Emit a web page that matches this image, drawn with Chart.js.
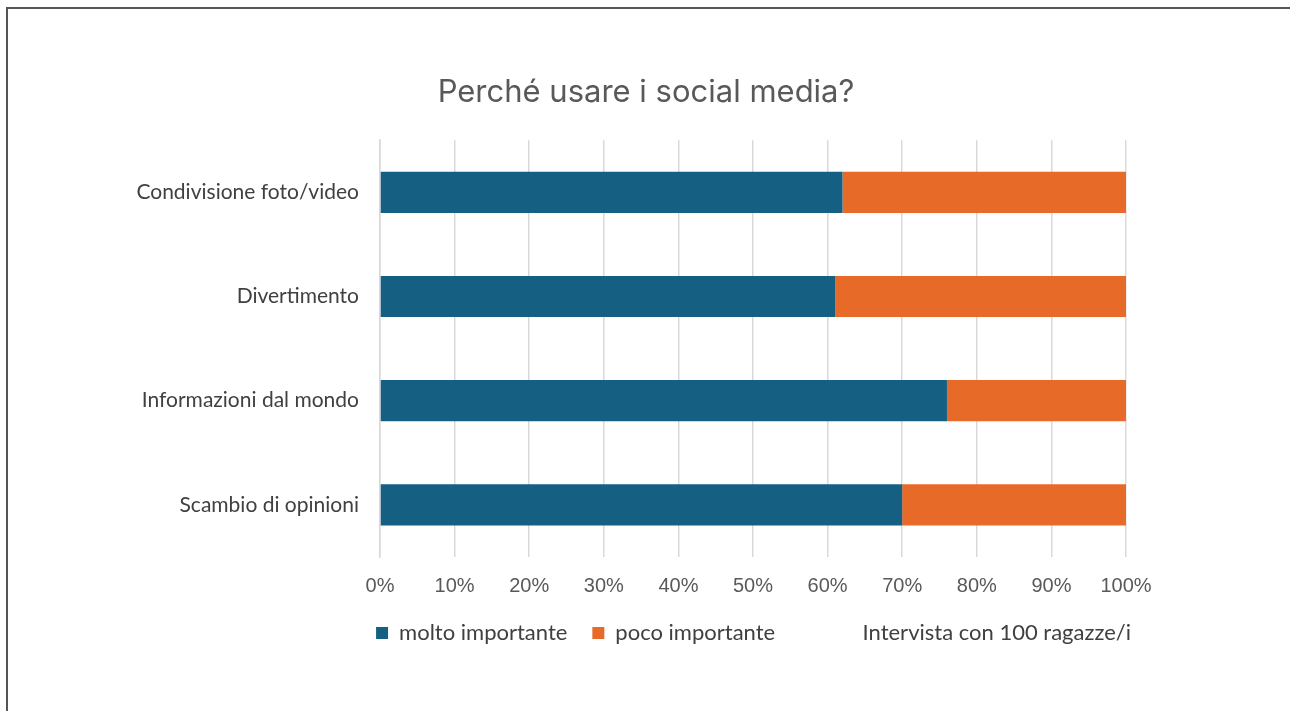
<!DOCTYPE html>
<html>
<head>
<meta charset="utf-8">
<script src="https://cdn.jsdelivr.net/npm/chart.js@4.4.1/dist/chart.umd.min.js"></script>
<style>
  html, body { margin: 0; padding: 0; background: #fff; }
  #wrap { position: relative; width: 1290px; height: 711px; overflow: hidden; }
  #frame { position: absolute; left: 6px; top: 7px; right: -10px; bottom: -10px;
           border-left: 2px solid #555; border-top: 2px solid #555; }
  #chart { position: absolute; left: 0; top: 0; }
</style>
</head>
<body>
<div id="wrap">
  <div id="frame"></div>
  <canvas id="chart" width="1290" height="711"></canvas>
</div>
<script>
const categorie = ['Condivisione foto/video', 'Divertimento', 'Informazioni dal mondo', 'Scambio di opinioni']
const moltoImportante = [62, 61, 76, 70]
const pocoImportante = [38, 39, 24, 30]
const xTicks = [0, 10, 20, 30, 40, 50, 60, 70, 80, 90, 100]
const nota = 'Intervista con 100 ragazze/i'

const grigio = '#595959'

const chart = new Chart('chart', {
  type: 'bar',
  data: {
    labels: categorie,
    datasets: [{
      label: 'molto importante',
      data: moltoImportante,
      backgroundColor: '#156082'
    }, {
      label: 'poco importante',
      data: pocoImportante,
      backgroundColor: '#E86A28'
    }, {
      // solo testo in legenda, nessuna barra
      label: '       ' + nota,
      data: [],
      backgroundColor: 'rgba(0,0,0,0)'
    }]
  },
  options: {
    indexAxis: 'y',
    responsive: false,
    animation: false,
    layout: { padding: { left: 136, right: 134, top: 0, bottom: 57 } },
    datasets: { bar: { barPercentage: 0.395, categoryPercentage: 1 } },
    scales: {
      x: {
        stacked: true,
        min: 0,
        max: 100,
        afterBuildTicks: (axis) => { axis.ticks = xTicks.map(v => ({ value: v })) },
        afterFit: (axis) => { axis.height = 40 },
        grid: { color: '#D9D9D9', lineWidth: 1.5, drawTicks: false },
        border: { display: false },
        ticks: {
          callback: (v) => v + '%',
          color: grigio,
          padding: 19,
          font: { family: 'Liberation Sans', size: 20, lineHeight: 1 }
        }
      },
      y: {
        stacked: true,
        afterFit: (axis) => { axis.width = 244 },
        grid: { display: false, drawTicks: false },
        border: { display: true, color: '#D9D9D9', width: 1.5 },
        ticks: {
          color: '#404040',
          padding: 21,
          font: { family: 'Lato', size: 21 }
        }
      },
      // asse vuoto a destra, solo per lo spazio
      yVuoto: {
        axis: 'y',
        type: 'category',
        position: 'right',
        afterFit: (axis) => { axis.width = 30 },
        grid: { display: false, drawTicks: false },
        border: { display: false },
        ticks: { display: false }
      }
    },
    plugins: {
      title: {
        display: true,
        text: 'Perché usare i social media?',
        color: grigio,
        font: { family: 'Inter', size: 31, weight: 'normal' },
        padding: { top: 74, bottom: 29 }
      },
      legend: {
        position: 'bottom',
        align: 'end',
        labels: {
          color: '#404040',
          boxWidth: 12,
          boxHeight: 12,
          padding: 25,
          font: { family: 'Lato', size: 22, lineHeight: 1 }
        }
      },
      tooltip: { enabled: false }
    }
  }
})
</script>
</body>
</html>
